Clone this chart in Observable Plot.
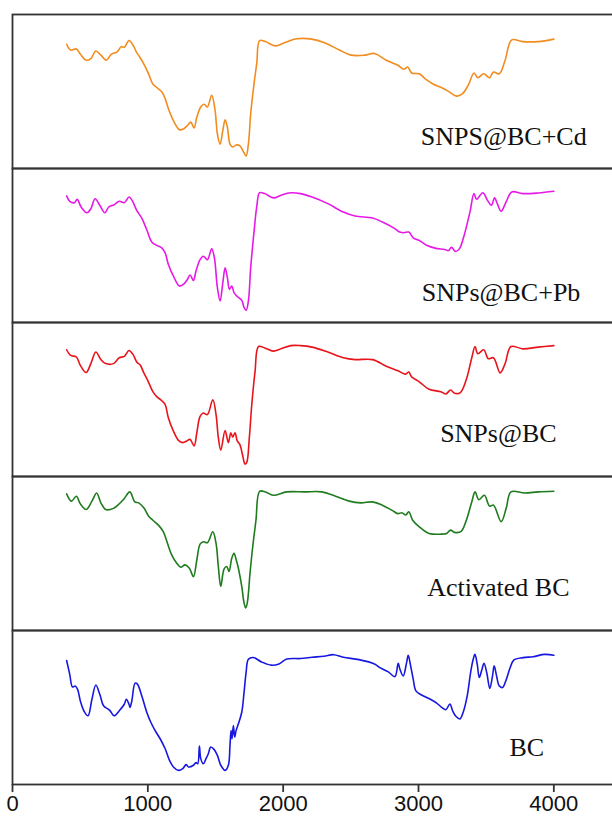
<!DOCTYPE html>
<html>
<head>
<meta charset="utf-8">
<script src="https://cdn.jsdelivr.net/npm/d3@7"></script>
<script src="https://cdn.jsdelivr.net/npm/@observablehq/plot@0.6"></script>
<style>
  html, body { margin: 0; padding: 0; background: #fff; overflow: hidden; }
  #chart { width: 612px; height: 821px; }
</style>
</head>
<body>
<div id="chart"></div>
<script>
// FTIR spectra, stacked panels (wavenumber in cm⁻¹, transmittance in relative %)
const samples = ["SNPS@BC+Cd", "SNPs@BC+Pb", "SNPs@BC", "Activated BC", "BC"];
const sampleColors = ["#f28c1e", "#e619e6", "#e8141b", "#1e7b1e", "#1717e0"];
const xTicks = [0, 1000, 2000, 3000, 4000];

const cdWavenumber = [400,429,472,501,544,579,616,653,694,731,774,803,826,861,890,918,940,967,1004,1037,1066,1103,1128,1152,1189,1233,1263,1292,1317,1342,1362,1391,1416,1440,1472,1497,1514,1534,1554,1571,1588,1607,1627,1652,1681,1706,1726,1743,1760,1785,1805,1826,1869,1941,2014,2099,2200,2301,2416,2502,2603,2675,2762,2848,2891,2920,2949,3006,3050,3107,3165,3222,3280,3323,3366,3410,3438,3482,3525,3554,3597,3640,3689,3770,3885,4000];
const cdTransmittance = [80.7,76.9,77.6,74.3,70.3,71.4,76.3,73.6,70.3,74.3,75.8,79.1,78.7,83.1,80.2,75.2,72.4,68.4,61.8,54.8,52.6,49.8,45.4,38.8,31.1,25.2,25.7,27.8,30.1,26.3,33.4,40.0,41.7,40.0,47.6,37.7,22.4,15.8,24.6,31.6,26.8,15.8,14.0,15.3,14.7,11.0,8.1,15.8,35.5,55.3,68.4,83.1,82.4,79.6,81.8,84.2,84.2,81.8,76.9,73.6,73.6,74.7,70.3,67.0,64.4,65.9,62.0,61.5,58.2,54.9,52.7,50.1,47.0,48.4,53.8,62.0,58.9,61.5,58.9,62.6,61.5,70.3,83.5,82.4,82.4,84.0];

const pbWavenumber = [400,423,458,478,507,550,579,610,645,682,711,751,789,826,861,884,918,955,992,1029,1066,1103,1128,1152,1189,1233,1263,1292,1312,1337,1356,1386,1410,1440,1472,1492,1514,1534,1554,1571,1588,1603,1620,1637,1657,1694,1711,1726,1743,1760,1785,1806,1826,1864,1927,1984,2042,2128,2214,2330,2445,2531,2661,2733,2819,2862,2891,2928,2963,3006,3064,3122,3194,3222,3243,3274,3302,3337,3380,3410,3429,3475,3510,3539,3562,3582,3611,3649,3689,3770,3885,4000];
const pbTransmittance = [82.2,78.7,77.8,80.0,75.0,71.3,73.9,80.4,76.1,71.3,75.0,76.5,78.7,77.8,81.5,79.3,72.8,67.7,60.2,52.3,50.1,48.4,45.2,37.6,30.1,23.7,24.7,27.9,30.8,27.3,33.4,40.8,43.0,40.8,47.9,41.9,22.6,14.0,25.8,35.5,29.0,21.5,23.7,19.4,17.2,14.4,9.7,7.9,14.0,35.5,59.2,76.1,84.3,83.7,80.9,82.6,84.1,83.7,81.5,77.2,71.7,69.1,67.8,65.2,61.3,58.7,58.3,58.7,54.8,53.3,50.0,48.3,47.4,46.7,48.9,46.1,47.8,56.5,71.7,83.7,80.0,84.3,79.3,76.1,80.9,77.2,72.2,78.7,84.8,83.7,84.1,85.2];

const npWavenumber = [400,429,472,501,544,579,616,653,688,746,789,826,861,890,918,945,967,1004,1037,1066,1103,1128,1152,1189,1226,1258,1288,1312,1342,1362,1386,1410,1440,1480,1504,1521,1539,1571,1595,1613,1627,1644,1661,1681,1701,1718,1731,1750,1768,1792,1818,1864,1927,1984,2056,2128,2214,2330,2445,2531,2661,2762,2848,2906,2928,2949,3006,3078,3165,3202,3237,3266,3309,3352,3395,3418,3438,3482,3516,3554,3603,3640,3683,3770,3885,4000];
const npTransmittance = [82.3,78.6,77.6,72.2,67.5,73.3,80.8,75.9,73.3,73.3,77.1,78.0,81.8,79.3,74.4,72.2,67.9,61.5,55.1,51.9,49.2,46.6,38.0,29.5,23.5,22.0,23.1,24.1,19.9,28.4,39.1,41.2,40.2,49.8,40.2,25.2,17.1,29.9,22.0,28.4,25.6,28.4,23.1,20.5,13.5,8.1,9.2,25.2,46.6,67.9,84.4,83.5,81.4,82.9,85.0,85.0,84.0,80.8,77.1,75.9,75.9,71.6,68.6,66.5,67.9,64.7,61.5,56.6,55.1,53.6,56.2,54.1,54.5,62.6,77.6,84.4,79.7,82.3,76.5,77.1,67.3,73.3,84.4,82.9,84.0,85.0];

const actWavenumber = [400,435,472,501,544,587,622,653,688,746,789,826,867,904,933,970,1005,1037,1078,1115,1145,1177,1214,1243,1275,1307,1337,1362,1386,1410,1440,1480,1504,1521,1539,1563,1583,1600,1620,1637,1652,1669,1694,1711,1723,1735,1755,1775,1799,1826,1869,1927,2027,2157,2286,2387,2488,2574,2661,2733,2805,2848,2877,2906,2928,2957,3006,3078,3179,3208,3237,3266,3315,3352,3395,3418,3446,3487,3525,3554,3611,3649,3683,3784,3885,4000];
const actTransmittance = [88.7,84.0,87.2,82.3,78.6,84.0,89.3,82.9,78.6,79.3,82.3,85.7,90.0,83.5,82.9,79.7,74.4,71.6,68.4,64.1,56.6,49.0,43.7,41.1,42.6,40.4,35.0,45.8,56.1,57.6,57.0,64.1,56.6,41.5,28.6,39.8,41.5,38.3,46.9,50.1,46.3,40.4,28.6,17.9,14.6,17.9,37.2,54.4,71.6,90.4,90.0,87.8,90.0,90.0,90.0,87.2,84.0,82.9,83.5,81.4,78.0,75.9,76.5,75.0,77.1,71.6,67.3,63.0,62.6,63.0,65.2,63.7,64.3,71.2,84.0,90.0,85.0,87.8,80.8,81.4,70.7,79.7,90.0,89.3,90.0,90.4];

const bcWavenumber = [400,423,443,463,481,501,530,558,587,616,645,673,717,751,789,826,841,861,869,882,906,923,955,992,1022,1054,1091,1128,1160,1189,1226,1258,1283,1300,1337,1356,1369,1381,1391,1410,1430,1447,1465,1489,1514,1539,1571,1595,1607,1615,1622,1632,1642,1652,1669,1694,1711,1726,1743,1777,1840,1912,1969,2027,2128,2214,2301,2373,2445,2560,2675,2715,2777,2826,2850,2863,2887,2912,2924,2942,2961,2981,3023,3084,3134,3171,3202,3232,3252,3276,3306,3330,3360,3385,3404,3417,3434,3449,3466,3484,3504,3527,3547,3559,3577,3596,3621,3645,3675,3704,3773,3847,3933,4000];
const bcTransmittance = [80.5,71.5,63.3,63.9,61.8,54.3,47.4,44.6,55.4,64.6,58.6,51.1,48.3,44.6,47.9,52.1,55.4,52.1,50.1,54.4,65.8,65.2,57.6,46.9,40.4,35.0,29.7,23.2,15.7,11.4,9.2,10.3,12.9,11.4,12.5,14.2,13.5,25.0,16.8,13.5,16.8,20.0,24.3,22.8,18.9,12.5,9.2,12.5,25.4,35.0,29.7,38.3,30.8,35.0,39.4,46.9,59.8,72.7,81.3,82.5,79.6,77.5,78.3,81.5,81.8,82.6,83.3,84.3,82.6,81.1,78.3,75.9,73.1,70.1,78.7,74.8,70.5,79.1,83.9,77.0,68.4,60.8,58.1,55.5,52.9,50.1,48.6,52.3,47.9,44.3,42.6,46.9,57.6,72.7,81.3,84.5,78.1,69.5,73.8,78.7,72.7,62.4,70.5,77.0,70.5,64.1,63.0,67.3,75.3,80.8,82.4,83.0,84.5,83.9];

// Long-format table for the line marks
const series = [
  [samples[0], cdWavenumber, cdTransmittance],
  [samples[1], pbWavenumber, pbTransmittance],
  [samples[2], npWavenumber, npTransmittance],
  [samples[3], actWavenumber, actTransmittance],
  [samples[4], bcWavenumber, bcTransmittance]
];
const spectra = series.flatMap(([sample, wn, tr]) =>
  wn.map((w, i) => ({sample, wavenumber: w, transmittance: tr[i]})));

// Where each panel's name sits (wavenumber, relative height)
const labelPlacement = {
  "SNPS@BC+Cd": [3630, 15.5],
  "SNPs@BC+Pb": [3610, 14.2],
  "SNPs@BC": [3590, 22.6],
  "Activated BC": [3590, 22.6],
  "BC": [3800, 18.7]
};
const labels = samples.map(s => ({sample: s, x: labelPlacement[s][0], y: labelPlacement[s][1]}));

const chart = Plot.plot({
  width: 612,
  height: 821,
  marginTop: 12,
  marginBottom: 35,
  marginLeft: 12,
  marginRight: -9,
  style: {background: "#fff", overflow: "hidden"},
  x: {domain: [0, 4500], label: null},
  y: {domain: [0, 100], axis: null},
  fy: {domain: samples, axis: null, padding: 0},
  color: {domain: samples, range: sampleColors},
  marks: [
    Plot.frame({stroke: "#333", strokeWidth: 1.8}),
    Plot.lineY(spectra, {
      x: "wavenumber", y: "transmittance", fy: "sample",
      stroke: "sample", strokeWidth: 1.6, curve: "catmull-rom"
    }),
    Plot.text(labels, {
      x: "x", y: "y", fy: "sample", text: "sample",
      lineAnchor: "bottom", textAnchor: "middle",
      fontFamily: "'Liberation Serif', 'Times New Roman', serif",
      fontSize: 26, fill: "#111"
    }),
    Plot.axisX({
      ticks: xTicks, tickFormat: d => String(d),
      tickSize: 8, tickPadding: 3, strokeWidth: 1.8,
      fontSize: 22, fontFamily: "'Liberation Sans', Arial, sans-serif",
      fill: "#111", stroke: "#333"
    })
  ]
});
document.getElementById("chart").appendChild(chart);
</script>
</body>
</html>
